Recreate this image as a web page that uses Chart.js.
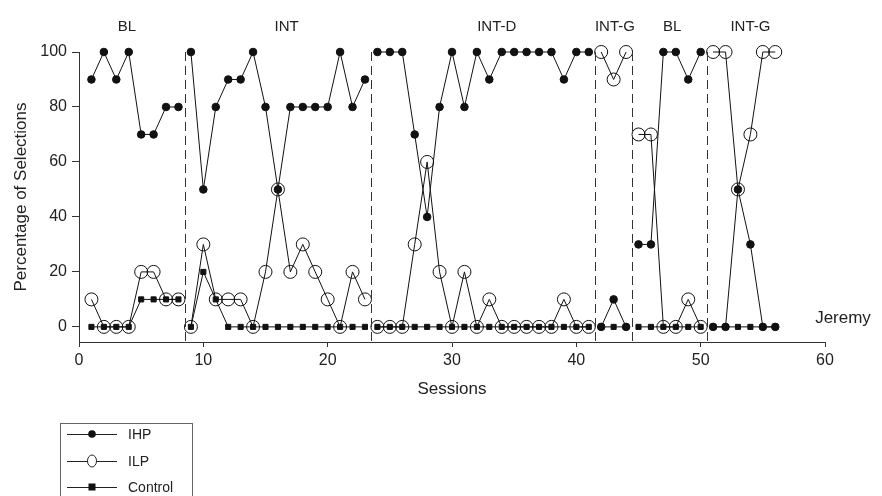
<!DOCTYPE html>
<html>
<head>
<meta charset="utf-8">
<script src="https://cdn.jsdelivr.net/npm/chart.js@4/dist/chart.umd.min.js"></script>
<style>
  html, body { margin: 0; padding: 0; background: #fff; }
  canvas { display: block; }
</style>
</head>
<body>
<canvas id="chart" width="882" height="496"></canvas>
<script>
// Datos por sesión (1-56)
const sessions = [
  1, 2, 3, 4, 5, 6, 7, 8, 9, 10, 11, 12, 13, 14, 15, 16, 17, 18, 19, 20,
  21, 22, 23, 24, 25, 26, 27, 28, 29, 30, 31, 32, 33, 34, 35, 36, 37, 38, 39, 40,
  41, 42, 43, 44, 45, 46, 47, 48, 49, 50, 51, 52, 53, 54, 55, 56
];
const ihp = [
  90, 100, 90, 100, 70, 70, 80, 80,
  100, 50, 80, 90, 90, 100, 80, 50, 80, 80, 80, 80, 100, 80, 90,
  100, 100, 100, 70, 40, 80, 100, 80, 100, 90, 100, 100, 100, 100, 100, 90, 100, 100,
  0, 10, 0,
  30, 30, 100, 100, 90, 100,
  0, 0, 50, 30, 0, 0
];
const ilp = [
  10, 0, 0, 0, 20, 20, 10, 10,
  0, 30, 10, 10, 10, 0, 20, 50, 20, 30, 20, 10, 0, 20, 10,
  0, 0, 0, 30, 60, 20, 0, 20, 0, 10, 0, 0, 0, 0, 0, 10, 0, 0,
  100, 90, 100,
  70, 70, 0, 0, 10, 0,
  100, 100, 50, 70, 100, 100
];
const control = [
  0, 0, 0, 0, 10, 10, 10, 10,
  0, 20, 10, 0, 0, 0, 0, 0, 0, 0, 0, 0, 0, 0, 0,
  0, 0, 0, 0, 0, 0, 0, 0, 0, 0, 0, 0, 0, 0, 0, 0, 0, 0,
  0, 0, 0,
  0, 0, 0, 0, 0, 0,
  0, 0, 0, 0, 0, 0
];
const phaseBreaks = [8.5, 23.5, 41.5, 44.5, 50.5];
const phaseNames = ["BL", "INT", "INT-D", "INT-G", "BL", "INT-G"];
const xTicks = [0, 10, 20, 30, 40, 50, 60];
const yTicks = [0, 20, 40, 60, 80, 100];
const subjectName = "Jeremy";

const FONT = "Arial, 'Liberation Sans', sans-serif";

// Inserta un punto nulo en cada cambio de fase para cortar la línea
function buildSeries(values) {
  const points = [];
  sessions.forEach((s, i) => {
    if (i > 0) {
      const br = phaseBreaks.find((b) => b > sessions[i - 1] && b < s);
      if (br !== undefined) points.push({ x: br, y: null });
    }
    points.push({ x: s, y: values[i] });
  });
  return points;
}

// Líneas de fase, etiquetas, nombre y leyenda
const overlayPlugin = {
  id: "overlay",
  afterDatasetsDraw(chart) {
    const { ctx, scales: { x, y } } = chart;
    ctx.save();
    ctx.strokeStyle = "#333";
    ctx.lineWidth = 1;
    ctx.setLineDash([9, 5]);
    phaseBreaks.forEach((b) => {
      const px = Math.round(x.getPixelForValue(b)) + 0.5;
      ctx.beginPath();
      ctx.moveTo(px, y.getPixelForValue(100));
      ctx.lineTo(px, chart.chartArea.bottom);
      ctx.stroke();
    });
    ctx.setLineDash([]);

    ctx.fillStyle = "#222";
    ctx.font = "15px " + FONT;
    ctx.textAlign = "center";
    ctx.textBaseline = "middle";
    const labelX = [3.85, 16.7, 33.6, 43.1, 47.7, 54.0];
    phaseNames.forEach((name, i) => {
      ctx.fillText(name, x.getPixelForValue(labelX[i]), 27);
    });

    ctx.font = "17px " + FONT;
    ctx.fillText(subjectName, 843, 318);

    // Leyenda
    ctx.strokeStyle = "#666";
    ctx.strokeRect(60.5, 423.5, 132, 80);
    const items = [
      { label: "IHP", y: 434, style: "dot" },
      { label: "ILP", y: 461, style: "circle" },
      { label: "Control", y: 487, style: "square" },
    ];
    ctx.font = "14px " + FONT;
    ctx.textAlign = "left";
    items.forEach((it) => {
      ctx.strokeStyle = "#222";
      ctx.beginPath();
      ctx.moveTo(67, it.y + 0.5);
      ctx.lineTo(117, it.y + 0.5);
      ctx.stroke();
      ctx.fillStyle = "#111";
      if (it.style === "dot") {
        ctx.beginPath();
        ctx.arc(92, it.y, 3.8, 0, Math.PI * 2);
        ctx.fill();
      } else if (it.style === "circle") {
        ctx.fillStyle = "#fff";
        ctx.beginPath();
        ctx.ellipse(92, it.y, 4.5, 6, 0, 0, Math.PI * 2);
        ctx.fill();
        ctx.stroke();
      } else {
        ctx.fillRect(88.5, it.y - 3.5, 7, 7);
      }
      ctx.fillStyle = "#222";
      ctx.fillText(it.label, 128, it.y + 1);
    });
    ctx.restore();
  },
};

const ctx = document.getElementById("chart").getContext("2d");
new Chart(ctx, {
  type: "line",
  data: {
    datasets: [
      {
        label: "Control",
        data: buildSeries(control),
        borderColor: "#111",
        backgroundColor: "#111",
        borderWidth: 1,
        pointStyle: "rect",
        pointRadius: 3.6,
        spanGaps: false,
        clip: false,
      },
      {
        label: "ILP",
        data: buildSeries(ilp),
        borderColor: "#111",
        backgroundColor: "rgba(0,0,0,0)",
        borderWidth: 1,
        pointStyle: "circle",
        pointRadius: 6.5,
        pointBorderWidth: 1,
        spanGaps: false,
        clip: false,
      },
      {
        label: "IHP",
        data: buildSeries(ihp),
        borderColor: "#111",
        backgroundColor: "#111",
        borderWidth: 1,
        pointStyle: "circle",
        pointRadius: 3.8,
        spanGaps: false,
        clip: false,
      },
    ],
  },
  options: {
    responsive: false,
    animation: false,
    layout: { padding: { left: 0, right: 57, top: 52, bottom: 94 } },
    plugins: {
      legend: { display: false },
      tooltip: { enabled: false },
    },
    scales: {
      x: {
        type: "linear",
        min: 0,
        max: 60,
        afterFit: (scale) => { scale.height = 60; },
        afterBuildTicks: (scale) => { scale.ticks = xTicks.map((v) => ({ value: v })); },
        grid: { drawOnChartArea: false, tickLength: 5, tickColor: "#333" },
        border: { display: true, color: "#333", width: 1 },
        ticks: { color: "#222", font: { family: FONT, size: 16 }, padding: 4, maxRotation: 0 },
        title: {
          display: true,
          text: "Sessions",
          color: "#222",
          font: { family: FONT, size: 17 },
          padding: { top: 0, bottom: 2 },
        },
      },
      y: {
        min: -5.5,
        max: 100,
        afterFit: (scale) => { scale.width = 79; },
        afterBuildTicks: (scale) => { scale.ticks = yTicks.map((v) => ({ value: v })); },
        grid: { drawOnChartArea: false, tickLength: 7, tickColor: "#333" },
        border: { display: true, color: "#333", width: 1 },
        ticks: { color: "#222", font: { family: FONT, size: 16 }, padding: 5 },
        title: {
          display: true,
          text: "Percentage of Selections",
          color: "#222",
          font: { family: FONT, size: 17 },
          padding: { top: 11, bottom: 0 },
        },
      },
    },
  },
  plugins: [overlayPlugin],
});
</script>
</body>
</html>
